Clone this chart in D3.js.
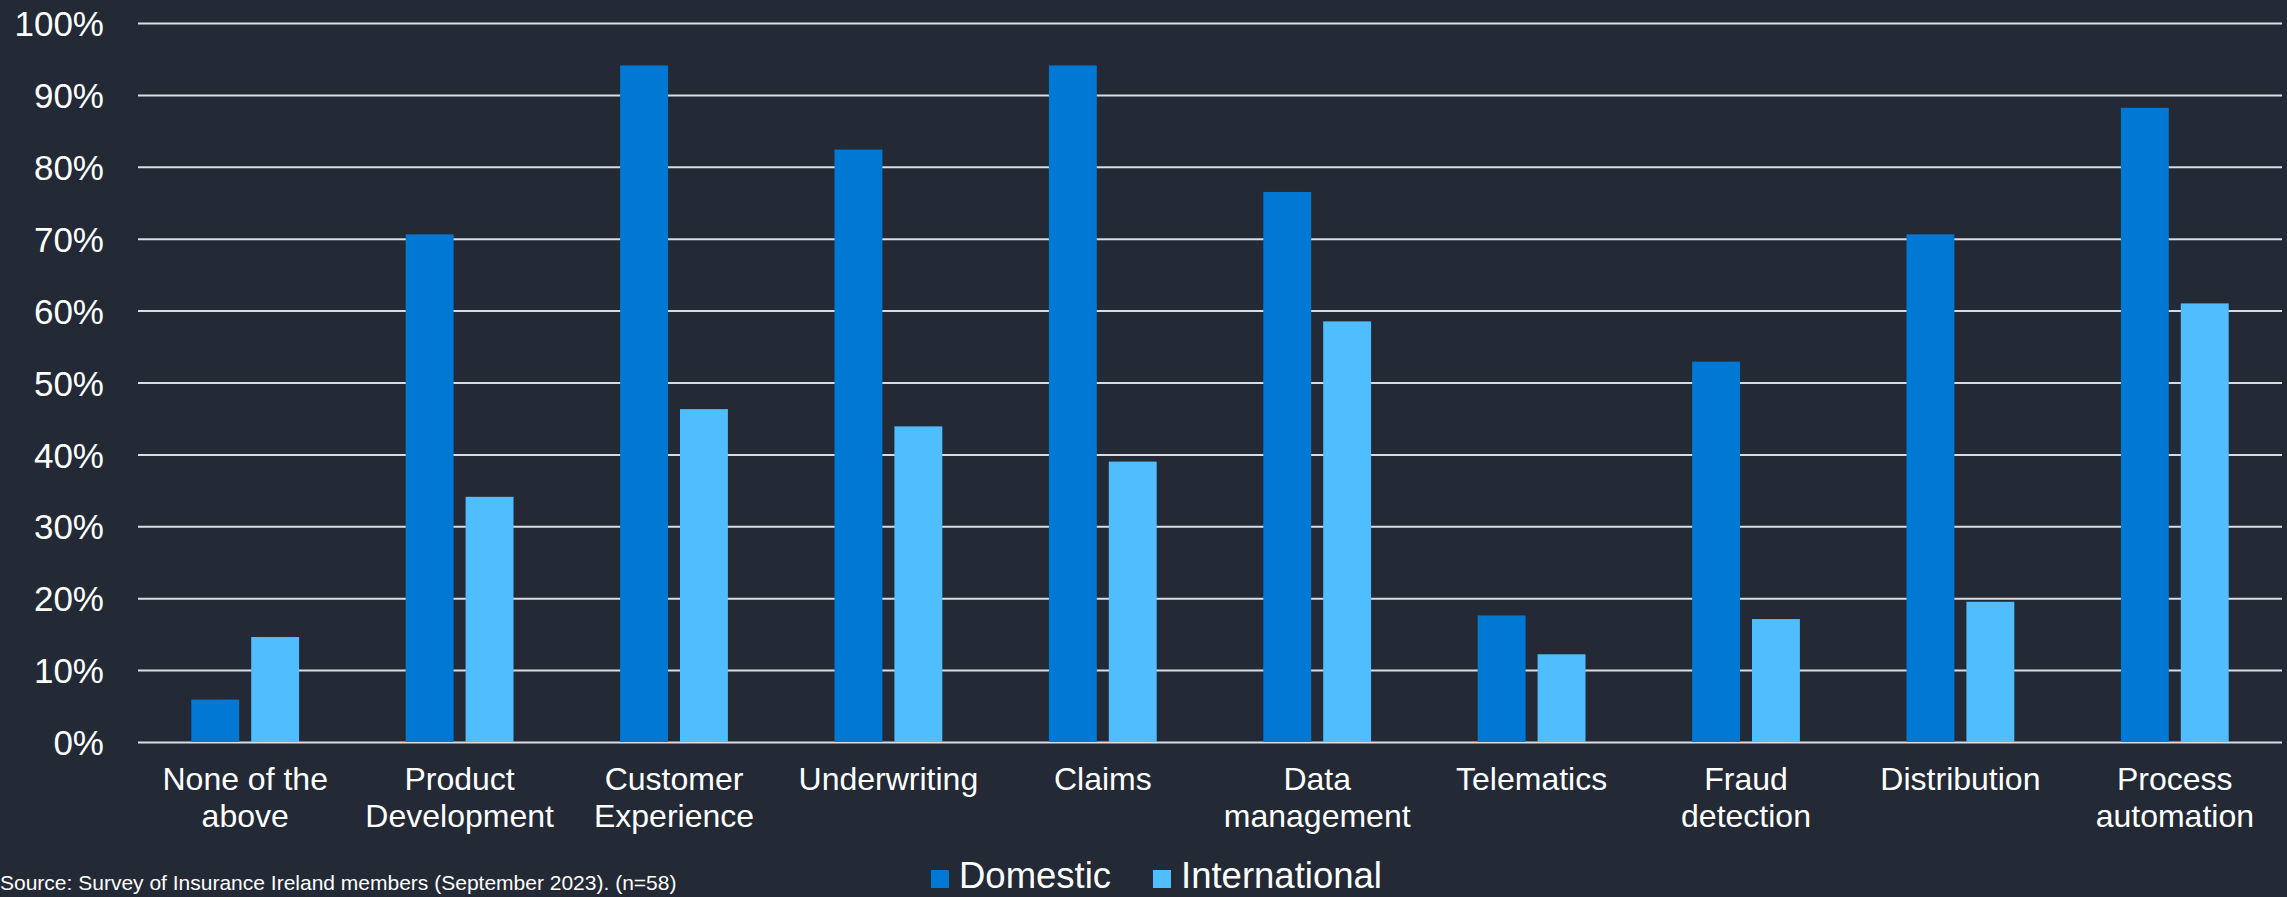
<!DOCTYPE html>
<html>
<head>
<meta charset="utf-8">
<script src="https://cdn.jsdelivr.net/npm/d3@7"></script>
<style>
  body { margin: 0; background: #232a36; }
  svg { display: block; font-family: "Liberation Sans", Arial, sans-serif; }
</style>
</head>
<body>
<script>
// categories and series (percent of respondents)
const categories = [
    'None of the\nabove', 'Product\nDevelopment', 'Customer\nExperience', 'Underwriting', 'Claims',
    'Data\nmanagement', 'Telematics', 'Fraud\ndetection', 'Distribution', 'Process\nautomation'
];
const seriesNames = ['Domestic', 'International'];
const domestic = [5.9, 70.6, 94.1, 82.4, 94.1, 76.5, 17.6, 52.9, 70.6, 88.2];
const international = [14.6, 34.1, 46.3, 43.9, 39.0, 58.5, 12.2, 17.1, 19.5, 61.0];
const yTicks = [0, 10, 20, 30, 40, 50, 60, 70, 80, 90, 100];
const colors = ['#0078d4', '#50bdfe'];
const sourceNote = 'Source: Survey of Insurance Ireland members (September 2023). (n=58)';

const width = 2287;
const height = 897;
const margin = { top: 23, right: 5, bottom: 155, left: 138 };

const svg = d3.select('body').append('svg')
    .attr('width', width)
    .attr('height', height);

svg.append('rect')
    .attr('width', width)
    .attr('height', height)
    .attr('fill', '#232a36');

// build rows for grouping
const rows = categories.map((c, i) => ({ category: c, values: [domestic[i], international[i]] }));

const x0 = d3.scaleBand()
    .domain(categories)
    .range([margin.left, width - margin.right])
    .padding(0);

const x1 = d3.scaleBand()
    .domain(seriesNames)
    .range([0, x0.bandwidth()])
    .paddingInner(0.2)
    .paddingOuter(0.89);

const y = d3.scaleLinear()
    .domain([0, 100])
    .range([height - margin.bottom, margin.top]);

// y axis with gridlines
const yAxis = svg.append('g')
    .attr('transform', 'translate(' + margin.left + ',0)')
    .call(d3.axisLeft(y)
        .tickValues(yTicks)
        .tickSize(-(width - margin.left - margin.right))
        .tickPadding(34)
        .tickFormat(d => d + '%'));

yAxis.select('.domain').remove();
yAxis.selectAll('.tick line')
    .attr('stroke', '#d9dde3')
    .attr('stroke-width', 2);
yAxis.selectAll('.tick text')
    .attr('fill', '#ffffff')
    .attr('font-size', 35)
    .attr('dy', '0.36em');

// bars
const groups = svg.selectAll('.group')
    .data(rows)
    .enter().append('g')
    .attr('class', 'group')
    .attr('transform', d => 'translate(' + x0(d.category) + ',0)');

groups.selectAll('rect')
    .data(d => d.values.map((v, i) => ({ key: seriesNames[i], value: v, idx: i })))
    .enter().append('rect')
    .attr('x', d => x1(d.key))
    .attr('y', d => y(d.value))
    .attr('width', x1.bandwidth())
    .attr('height', d => y(0) - y(d.value))
    .attr('fill', d => colors[d.idx]);

// x axis labels
const xAxis = svg.append('g')
    .attr('transform', 'translate(0,' + y(0) + ')')
    .call(d3.axisBottom(x0).tickSize(0).tickFormat(''));

xAxis.select('.domain').remove();
xAxis.selectAll('.tick').append('text')
    .attr('fill', '#ffffff')
    .attr('font-size', 32)
    .attr('text-anchor', 'middle')
    .each(function (d) {
        const lines = d.split('\n');
        d3.select(this).selectAll('tspan')
            .data(lines)
            .enter().append('tspan')
            .attr('x', 0)
            .attr('y', (l, i) => 48 + i * 37)
            .text(l => l);
    });

// legend
const legend = svg.selectAll('.legend')
    .data(seriesNames)
    .enter().append('g')
    .attr('class', 'legend')
    .attr('transform', (d, i) => 'translate(' + (931 + i * 222) + ',870)');

legend.append('rect')
    .attr('width', 18)
    .attr('height', 18)
    .attr('fill', (d, i) => colors[i]);

legend.append('text')
    .attr('x', 28)
    .attr('y', 18)
    .attr('fill', '#ffffff')
    .attr('font-size', 36.5)
    .text(d => d);

// source note
svg.append('text')
    .attr('x', 0)
    .attr('y', 890)
    .attr('fill', '#ffffff')
    .attr('font-size', 21)
    .text(sourceNote);
</script>
</body>
</html>
